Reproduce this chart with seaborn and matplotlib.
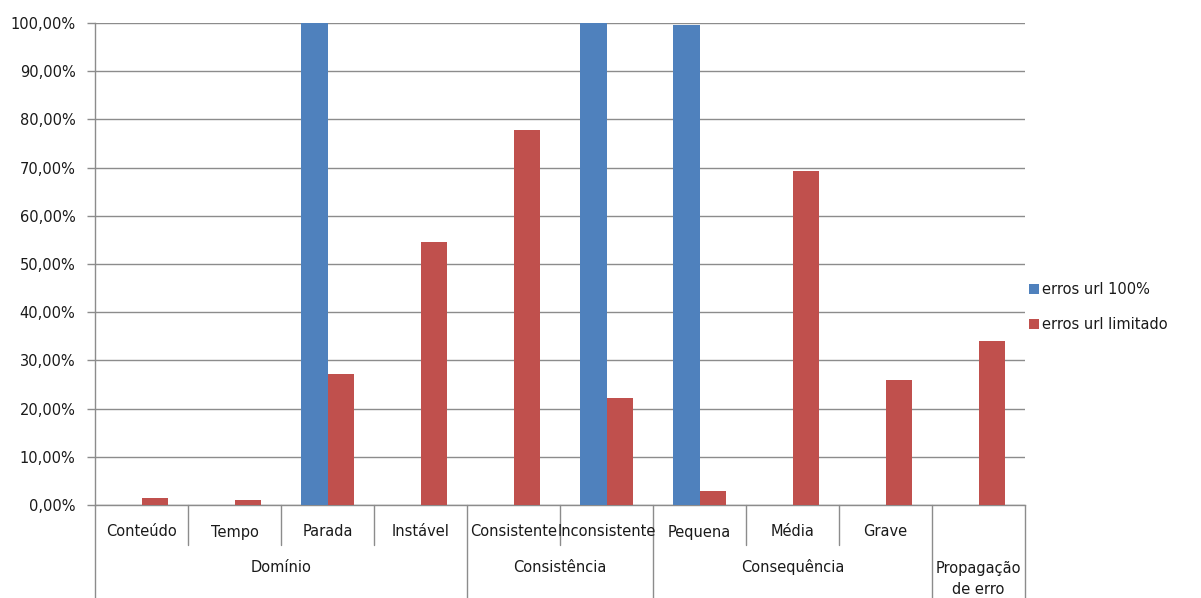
import matplotlib
matplotlib.use("Agg")
import matplotlib.pyplot as plt
from matplotlib.patches import Patch
import seaborn as sns
import pandas as pd

# Error classification: sub-categories, their groups, and the two series (in %)
categorias = ["Conteúdo", "Tempo", "Parada", "Instável", "Consistente",
              "Inconsistente", "Pequena", "Média", "Grave", "Propagação"]
rotulos_sub = ["Conteúdo", "Tempo", "Parada", "Instável", "Consistente",
               "Inconsistente", "Pequena", "Média", "Grave", ""]
grupos = ["Domínio", "Consistência", "Consequência", "Propagação\nde erro"]
grupo_inicio = [0, 4, 6, 9]
grupo_fim = [3, 5, 8, 9]
erros_url_100 = [0.0, 0.0, 100.0, 0.0, 0.0, 100.0, 99.6, 0.0, 0.0, 0.0]
erros_url_limitado = [1.4, 1.1, 27.1, 54.6, 77.7, 22.1, 2.9, 69.2, 25.9, 34.0]
series = ["erros url 100%", "erros url limitado"]
cores = ["#4F81BD", "#C0504D"]
grade = "#8C8C8C"
texto = "#1A1A1A"

df = pd.DataFrame({
    "categoria": categorias * 2,
    "serie": [series[0]] * len(categorias) + [series[1]] * len(categorias),
    "valor": erros_url_100 + erros_url_limitado,
})

sns.set_theme(style="white")
plt.rcParams["font.family"] = ["DejaVu Sans"]
fs = 10.5

fig = plt.figure(figsize=(12.01, 5.98), dpi=100)
ax = fig.add_axes([95 / 1201, 1 - 505 / 598, 930 / 1201, 482 / 598])

sns.barplot(data=df, x="categoria", y="valor", hue="serie", order=categorias,
            hue_order=series, palette=cores, width=0.58, gap=0, saturation=1,
            errorbar=None, ax=ax, legend=False, zorder=3, linewidth=0,
            edgecolor="none")

ax.set_xlim(-0.5, len(categorias) - 0.5)
ax.set_ylim(0, 100)
ax.set_yticks(range(0, 101, 10))
ax.set_yticklabels([f"{v:.2f}".replace(".", ",") + "%" for v in range(0, 101, 10)],
                   fontsize=fs, color=texto)
ax.yaxis.grid(True, color=grade, linewidth=1.0, zorder=0)
ax.set_axisbelow(True)
ax.tick_params(axis="y", which="major", length=6, width=1.0, color=grade,
               left=True, pad=8)
ax.set_xticks([])
ax.set_xlabel("")
ax.set_ylabel("")
for s in ["top", "right"]:
    ax.spines[s].set_visible(False)
for s in ["left", "bottom"]:
    ax.spines[s].set_color(grade)
    ax.spines[s].set_linewidth(1.0)

# Multi-level category axis drawn below the plot
trans = ax.get_xaxis_transform()
h = 482.0
y_sub = -27 / h
y_grp = -62 / h
y_curto = -40 / h
y_longo = -100 / h
for i, rot in enumerate(rotulos_sub):
    ax.text(i, y_sub, rot, transform=trans, ha="center", va="center",
            fontsize=fs, color=texto)
fronteiras_grupo = [g - 0.5 for g in grupo_inicio] + [len(categorias) - 0.5]
for i in range(len(categorias) + 1):
    xb = i - 0.5
    y_end = y_longo if xb in fronteiras_grupo else y_curto
    ax.plot([xb, xb], [0, y_end], transform=trans, color=grade, lw=1.0,
            clip_on=False)
for g, a, b in zip(grupos, grupo_inicio, grupo_fim):
    ax.text((a + b) / 2, y_grp if "\n" not in g else -74 / h, g,
            transform=trans, ha="center", va="center", fontsize=fs,
            color=texto, linespacing=1.45)

handles = [Patch(facecolor=c, edgecolor="none") for c in cores]
fig.legend(handles, series, loc="center left",
           bbox_to_anchor=(1023 / 1201, 1 - 307 / 598), frameon=False,
           fontsize=fs, handlelength=0.7, handleheight=0.7,
           handletextpad=0.2, labelspacing=1.4, borderaxespad=0,
           labelcolor=texto)

fig.savefig("out.png", dpi=100)
